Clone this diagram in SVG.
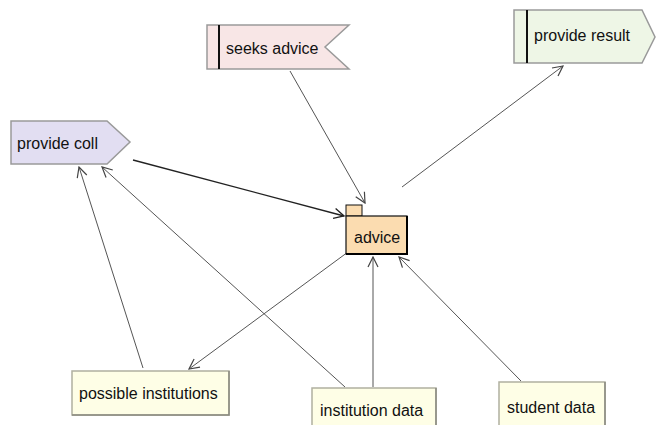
<svg xmlns="http://www.w3.org/2000/svg" width="656" height="425" viewBox="0 0 656 425">
<defs>
<marker id="arr" viewBox="0 0 12 12" refX="11" refY="6" markerWidth="12" markerHeight="12" markerUnits="userSpaceOnUse" orient="auto">
<path d="M1,1 L11,6 L1,11" fill="none" stroke="#444" stroke-width="1.2"/>
</marker>
<marker id="arrDark" viewBox="0 0 12 12" refX="11" refY="6" markerWidth="12" markerHeight="12" markerUnits="userSpaceOnUse" orient="auto">
<path d="M1,1 L11,6 L1,11" fill="none" stroke="#222" stroke-width="1.3"/>
</marker>
</defs>
<style>
text{font-family:"Liberation Sans",Arial,sans-serif;font-size:16px;fill:#111}
.sig{stroke:#9a9a9a;stroke-width:1.5}
.bar{stroke:#111;stroke-width:2}
.note{fill:#fefee6;stroke:#b0b0a0;stroke-width:1.5}
.shadow{fill:none;stroke:#8a8a80;stroke-width:1.5}
.c{fill:none;stroke:#555;stroke-width:1;marker-end:url(#arr)}
.cd{fill:none;stroke:#222;stroke-width:1.4;marker-end:url(#arrDark)}
</style>
<rect width="656" height="425" fill="#fff"/>
<g id="connectors">
<line class="c" x1="290" y1="71" x2="365" y2="203"/>
<line class="c" x1="402" y1="187" x2="563" y2="66"/>
<line class="cd" x1="133" y1="160" x2="344" y2="216"/>
<line class="c" x1="348" y1="252" x2="189" y2="369"/>
<line class="c" x1="143" y1="368" x2="79" y2="167"/>
<line class="c" x1="345" y1="387" x2="102" y2="167"/>
<line class="c" x1="373" y1="387" x2="373" y2="257"/>
<line class="c" x1="521" y1="381" x2="399" y2="257"/>
</g>
<g id="seeks-advice">
<path class="sig" d="M207,25 L349,25 L325,47 L349,69 L207,69 Z" fill="#f8e6e6"/>
<line class="bar" x1="219" y1="25" x2="219" y2="69"/>
<text x="226" y="54">seeks advice</text>
</g>
<g id="provide-result">
<path class="sig" d="M514,10 L642,10 L655,37 L642,63 L514,63 Z" fill="#eef6e6"/>
<line class="bar" x1="527" y1="10" x2="527" y2="63"/>
<text x="534" y="41">provide result</text>
</g>
<g id="provide-coll">
<path class="sig" d="M11,121 L107,121 L130,142 L107,164 L11,164 Z" fill="#e2def2"/>
<text x="17" y="149">provide coll</text>
</g>
<g id="advice">
<rect x="346" y="205" width="16" height="11" fill="#fbdcb0" stroke="#111" stroke-width="1"/>
<rect x="346" y="216" width="61" height="38" fill="#fbdcb0" stroke="#111" stroke-width="1.2"/>
<path d="M407,216 L407,254 L346,254" fill="none" stroke="#000" stroke-width="2"/>
<text x="354" y="243">advice</text>
</g>
<g id="possible-institutions">
<rect class="note" x="72" y="371" width="157" height="44"/>
<path class="shadow" d="M229,371 L229,415 L72,415"/>
<text x="79" y="399">possible institutions</text>
</g>
<g id="institution-data">
<rect class="note" x="312" y="388" width="124" height="40"/>
<path class="shadow" d="M436,388 L436,428"/>
<text x="320" y="416">institution data</text>
</g>
<g id="student-data">
<rect class="note" x="499" y="382" width="106" height="46"/>
<path class="shadow" d="M605,382 L605,428"/>
<text x="507" y="413">student data</text>
</g>
</svg>
